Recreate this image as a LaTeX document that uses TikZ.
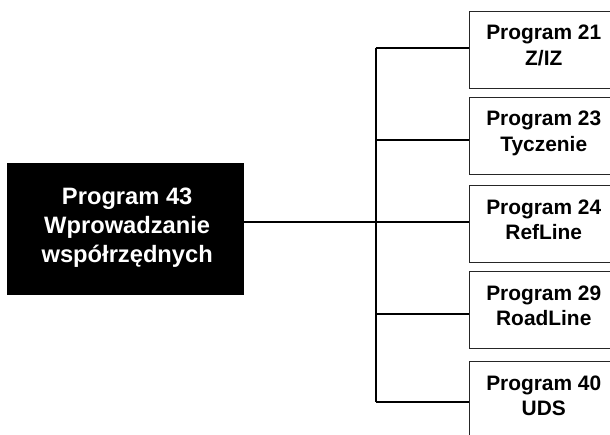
\documentclass[tikz,border=0pt]{standalone}
\usepackage{fontspec}
\setmainfont{Liberation Sans}
\begin{document}
\begin{tikzpicture}[x=1pt,y=-1pt,
  progbox/.style={draw=black!85, line width=0.9pt, fill=white,
    minimum width=148pt, minimum height=77.3pt, anchor=north west, inner sep=0pt},
  mainbox/.style={fill=black, minimum width=236.6pt, minimum height=132pt,
    anchor=north west, inner sep=0pt},
  boxtext/.style={anchor=north, inner sep=0pt, align=center,
    font={\fontsize{20.9}{25.7}\selectfont\bfseries}},
  maintext/.style={anchor=north, inner sep=0pt, align=center, text=white,
    font={\fontsize{23.7}{29}\selectfont\bfseries}},
  link/.style={line width=2pt, draw=black}]

\clip (0,0) rectangle (610,434);

% main program block
\node[mainbox] (main) at (6.7,162.3) {};
\node[maintext] (maintxt) at ([xshift=2pt,yshift=-25pt]main.north)
  {Program 43\\Wprowadzanie\\współrzędnych};

% program blocks on the right
\node[progbox] (b1) at (469.3,10.7) {};
\node[progbox] (b2) at (469.3,96.7) {};
\node[progbox] (b3) at (469.3,185.0) {};
\node[progbox] (b4) at (469.3,271.0) {};
\node[progbox] (b5) at (469.3,361.0) {};

\node[boxtext] (t1) at ([yshift=-14.5pt]b1.north) {Program 21\\Z/IZ};
\node[boxtext] (t2) at ([yshift=-14.5pt]b2.north) {Program 23\\Tyczenie};
\node[boxtext] (t3) at ([yshift=-14.5pt]b3.north) {Program 24\\RefLine};
\node[boxtext] (t4) at ([yshift=-14.5pt]b4.north) {Program 29\\RoadLine};
\node[boxtext] (t5) at ([yshift=-14.5pt]b5.north) {Program 40\\UDS};

% junctions on the vertical bus
\coordinate (j1) at (375.5,48.3);
\coordinate (j2) at (375.5,140.0);
\coordinate (j3) at (375.5,222.0);
\coordinate (j4) at (375.5,314.0);
\coordinate (j5) at (375.5,401.7);

% connectors
\draw[link] (j1) -- (j5);
\draw[link] (main.east |- j3) -- (j3);
\draw[link] (j1) -- (b1.west |- j1);
\draw[link] (j2) -- (b2.west |- j2);
\draw[link] (j3) -- (b3.west |- j3);
\draw[link] (j4) -- (b4.west |- j4);
\draw[link] (j5) -- (b5.west |- j5);
\end{tikzpicture}
\end{document}
